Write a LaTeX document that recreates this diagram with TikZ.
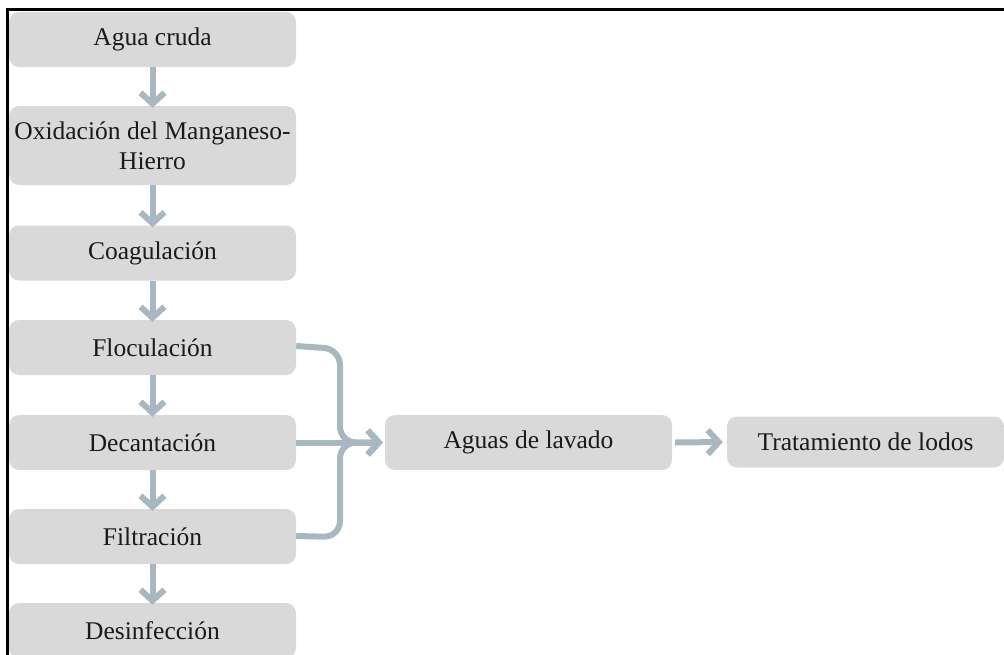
\documentclass[tikz,border=0pt]{standalone}
\usepackage{fontspec}
\setmainfont{Liberation Serif}
\usetikzlibrary{arrows.meta}
\definecolor{boxgray}{HTML}{D9D9D9}
\definecolor{arrgray}{HTML}{A9B7C0}
\definecolor{txt}{HTML}{1A1A1A}
\begin{document}
\begin{tikzpicture}[x=1pt,y=-1pt,
  stepbox/.style={rectangle, rounded corners=10pt, fill=boxgray, draw=none,
    text=txt, align=center, inner sep=0pt,
    font=\fontsize{25.5}{30}\selectfont},
  conn/.style={draw=arrgray, line width=6pt,
    -{Straight Barb[length=11pt,width=24pt,line width=6pt]}},
  brack/.style={conn, rounded corners=16pt}]
\useasboundingbox (0,0) rectangle (1004,654);
\clip (0,0) rectangle (1004,654);
% frame
\draw[line width=2.5pt] (7.5,660) -- (7.5,9.5) -- (1010,9.5);
% left column
\node[stepbox, minimum width=287pt, minimum height=55pt] (agua) at (152.5,39.5) {Agua cruda};
\node[stepbox, minimum width=287pt, minimum height=79pt] (oxi) at (152.5,145.5) {Oxidación del Manganeso-\\Hierro};
\node[stepbox, minimum width=287pt, minimum height=55pt] (coa) at (152.5,253) {Coagulación};
\node[stepbox, minimum width=287pt, minimum height=55pt] (flo) at (152.5,347.5) {Floculación};
\node[stepbox, minimum width=287pt, minimum height=55pt] (dec) at (152.5,442.5) {Decantación};
\node[stepbox, minimum width=287pt, minimum height=55pt] (fil) at (152.5,536.5) {Filtración};
\node[stepbox, minimum width=287pt, minimum height=55pt] (des) at (152.5,630.5) {Desinfección};
% right nodes
\node[stepbox, minimum width=287pt, minimum height=55pt] (lav) at (528.5,442.5) {Aguas de lavado};
\node[stepbox, minimum width=277pt, minimum height=51pt] (lod) at (865.5,442) {Tratamiento de lodos};
% vertical arrows
\draw[conn] (agua.south) -- ([yshift=-2pt]oxi.north);
\draw[conn] (oxi.south) -- ([yshift=-2pt]coa.north);
\draw[conn] (coa.south) -- ([yshift=-2pt]flo.north);
\draw[conn] (flo.south) -- ([yshift=-2pt]dec.north);
\draw[conn] (dec.south) -- ([yshift=-2pt]fil.north);
\draw[conn] (fil.south) -- ([yshift=-2pt]des.north);
% bracket into Aguas de lavado
\coordinate (jt) at (340,349);
\coordinate (jb) at (340,537);
\coordinate (jm) at (340,442.5);
\draw[brack] ([yshift=1.5pt]flo.east) -- (jt) -- (jm) -- ([xshift=-2pt]lav.west);
\draw[brack] ([yshift=0.5pt]fil.east) -- (jb) -- (jm) -- ([xshift=-2pt]lav.west);
\draw[conn] (dec.east) -- ([xshift=-2pt]lav.west);
% to sludge treatment
\draw[conn] ([xshift=3pt]lav.east) -- ([xshift=-4pt]lod.west);
\end{tikzpicture}
\end{document}
